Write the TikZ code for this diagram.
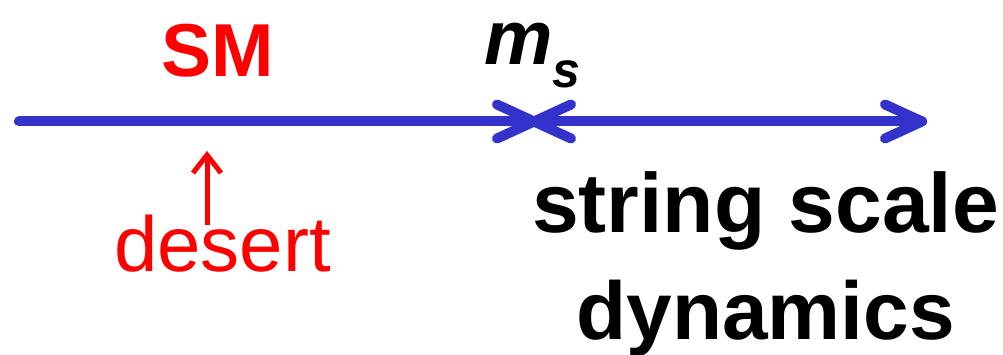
\documentclass[tikz,border=0pt]{standalone}
\usepackage{fontspec}
\setmainfont{Liberation Sans}
\usetikzlibrary{calc}
\definecolor{lineblue}{RGB}{51,51,204}
\definecolor{pured}{RGB}{255,0,0}
\begin{document}
\begin{tikzpicture}[x=1pt,y=1pt,
  axis/.style={lineblue,line width=10pt,line cap=round,line join=round},
  barb/.style={lineblue,line width=10pt,line cap=round,line join=round},
  redlbl/.style={pured,inner sep=0pt},
  blklbl/.style={black,inner sep=0pt}]
\useasboundingbox (0,0) rectangle (1003,355);
% coordinates
\coordinate (start) at (19,233.5);
\coordinate (ms) at (534,233.5);
\coordinate (stop) at (922,233.5);
% axis lines
\draw[axis] (start) -- (ms);
\draw[axis] (ms) -- (stop);
% arrowheads
\draw[barb] ($(ms)+(-37,17)$) -- (ms) -- ($(ms)+(-37,-17)$);
\draw[barb] ($(ms)+(37,17)$) -- (ms) -- ($(ms)+(37,-17)$);
\draw[barb] ($(stop)+(-37,17)$) -- (stop) -- ($(stop)+(-37,-17)$);
% labels
\node[redlbl,anchor=base,font=\fontsize{75}{75}\selectfont\bfseries] (sm) at (217.5,278) {SM};
\node[blklbl,anchor=base west,font=\fontsize{77}{77}\selectfont\bfseries\itshape] (mslbl) at (484,290) {m\raisebox{-23pt}{\fontsize{50}{50}\selectfont s}};
\node[redlbl,anchor=base,font=\fontsize{78}{78}\selectfont] (desert) at (222.5,83) {desert};
\coordinate (upbot) at (207,130);
\coordinate (uptop) at (207,200);
\draw[pured,line width=5pt] (upbot) -- (uptop);
\draw[pured,line width=5pt,line join=miter] ($(uptop)+(-14,-18)$) -- (uptop) -- ($(uptop)+(14,-18)$);
\node[blklbl,anchor=base,font=\fontsize{84}{84}\selectfont\bfseries] (ss) at (765.5,122) {string scale};
\node[blklbl,anchor=base,font=\fontsize{82}{82}\selectfont\bfseries] (dyn) at (765.5,15) {dynamics};
\end{tikzpicture}
\end{document}
